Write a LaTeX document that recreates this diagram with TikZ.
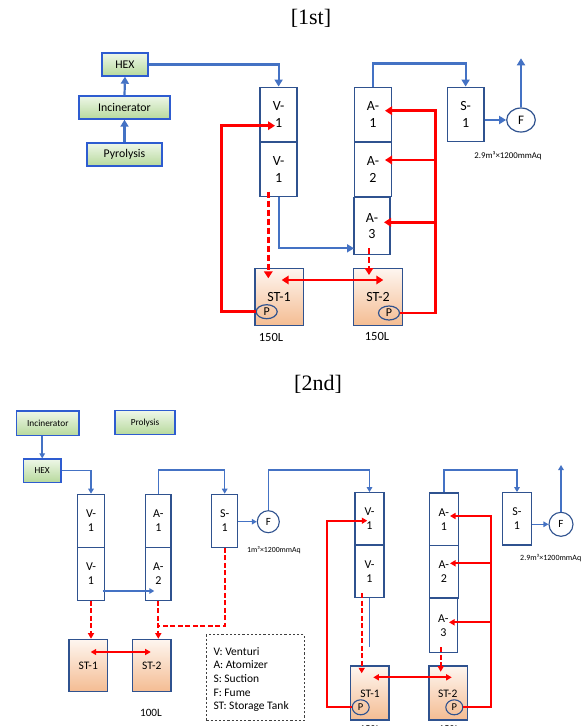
\documentclass[tikz,border=0pt]{standalone}
\usepackage{fontspec}
\setmainfont{Carlito}
\newfontfamily\titlefont{Liberation Serif}
\usetikzlibrary{arrows.meta,shapes.geometric,calc}
\definecolor{boxblue}{HTML}{2F528F}
\definecolor{lineblue}{HTML}{4472C4}
\definecolor{gborder}{HTML}{2E5CD0}
\definecolor{gtop}{HTML}{EEF7E8}
\definecolor{gbot}{HTML}{B7D99C}
\definecolor{ttop}{HTML}{FEF6F0}
\definecolor{tbot}{HTML}{F4BC92}
\definecolor{myred}{HTML}{FF0000}
\newcommand\fsz[2]{\fontsize{#1}{#2}\selectfont}
\tikzset{
 unitbox/.style={draw=boxblue, line width=1.4pt, fill=white, inner sep=0pt, align=center},
 gbox/.style={draw=gborder, line width=1.4pt, top color=gtop, bottom color=gbot, inner sep=0pt},
 tank/.style={draw=boxblue, line width=1.4pt, top color=ttop, bottom color=tbot, inner sep=0pt},
 pump/.style={ellipse, draw=boxblue, line width=1.2pt, inner sep=0pt},
 fan/.style={ellipse, draw=boxblue, line width=1.2pt, fill=white, inner sep=0pt},
 plain/.style={inner sep=0pt},
 bl/.style={draw=lineblue, line width=2.2pt, >={Triangle[length=7pt,width=8pt]}},
 rl/.style={draw=myred, line width=2.8pt, >={Triangle[length=7pt,width=8.5pt]}},
 rdash/.style={rl, dash pattern=on 6pt off 3pt},
 blb/.style={draw=lineblue, line width=1.5pt, >={Triangle[length=5pt,width=5.5pt]}},
 rlb/.style={draw=myred, line width=1.9pt, >={Triangle[length=5.5pt,width=6pt]}},
 rdashb/.style={rlb, dash pattern=on 5pt off 2.5pt},
}
\begin{document}
\begin{tikzpicture}[x=1pt,y=-1pt]
\useasboundingbox (0,0) rectangle (585,726);
\fill[white] (0,0) rectangle (585,726);

% ================= 1st =================
\node[plain, font=\titlefont\fsz{22}{26}] (title1) at (311,18) {[1st]};

\node[gbox, minimum width=46pt, minimum height=23pt, font=\fsz{11.8}{14}] (hexA) at (125,64.5) {HEX};
\node[gbox, minimum width=91pt, minimum height=23pt, font=\fsz{11.8}{14}] (incA) at (124.5,107.5) {Incinerator};
\node[gbox, minimum width=75pt, minimum height=23pt, font=\fsz{11.8}{14}] (pyrA) at (124.5,154.5) {Pyrolysis};

\node[unitbox, minimum width=37pt, minimum height=54.5pt, font=\fsz{14}{16.7}] (v1A) at (278.6,114.5) {V-\\1};
\node[unitbox, minimum width=37pt, minimum height=54.5pt, font=\fsz{14}{16.7}] (v1B) at (278.6,169.5) {V-\\1};
\node[unitbox, minimum width=37.5pt, minimum height=54.5pt, font=\fsz{14}{16.7}] (a1A) at (373,114.5) {A-\\1};
\node[unitbox, minimum width=37.5pt, minimum height=54.5pt, font=\fsz{14}{16.7}] (a2A) at (373,169.5) {A-\\2};
\node[unitbox, minimum width=36pt, minimum height=57pt, font=\fsz{14}{16.7}] (a3A) at (372,226) {A-\\3};
\node[unitbox, minimum width=36.7pt, minimum height=54.5pt, font=\fsz{14}{16.7}] (s1A) at (465.6,114.5) {S-\\1};
\node[fan, minimum width=28.6pt, minimum height=24pt, font=\fsz{13}{15}] (fA) at (521,120) {F};

\node[tank, minimum width=48.3pt, minimum height=57.4pt] (st1A) at (279.2,297) {};
\node[tank, minimum width=49pt, minimum height=57.4pt] (st2A) at (377.8,297) {};
\node[plain, font=\fsz{14}{16}] (st1Alab) at (279,296.7) {ST-1};
\node[plain, font=\fsz{14}{16}] (st2Alab) at (378,296.7) {ST-2};
\node[pump, minimum width=21pt, minimum height=14pt, font=\fsz{12}{14}] (p1A) at (266.7,311.7) {P};
\node[pump, minimum width=21pt, minimum height=14pt, font=\fsz{12}{14}] (p2A) at (389,313) {P};

\node[plain, font=\fsz{12.5}{14}] (volA1) at (271,337) {150L};
\node[plain, font=\fsz{12.5}{14}] (volA2) at (377,336) {150L};
\node[plain, font=\fsz{8.8}{10}] (capA) at (508,155.7) {2.9m³×1200mmAq};

% blue connectors
\draw[bl,->] (pyrA.north) -- (incA.south);
\draw[bl,->] (incA.north) -- (hexA.south);
\draw[bl,->] (hexA.east) -| (v1A.north);
\coordinate (a3Ain) at (354,248.3);
\draw[bl,->] (v1B.south) |- (a3Ain);
\draw[bl,->] (a1A.north) |- ($(s1A.north)+(0,-23)$) -- (s1A.north);
\draw[bl,->] (s1A.east |- fA.west) -- (fA.west);
\coordinate (fAout) at (521,58.3);
\draw[bl,->] (fA.north) -- (fAout);

% red connectors
\coordinate (rlA) at (221.7,311.7);
\coordinate (v1Ain) at (275,125.7);
\draw[rl,->] (p1A.west) -- (rlA) |- (v1Ain);
\coordinate (v1Bd) at (268.3,191.7);
\coordinate (st1Ain) at (268.3,278.3);
\draw[rdash,->] (v1Bd) -- (st1Ain);
\coordinate (a3Ad) at (369,248);
\coordinate (st2Ain) at (369,275);
\draw[rdash,->] (a3Ad) -- (st2Ain);
\coordinate (st1Ad) at (281.7,280);
\coordinate (st2Ad) at (383.3,280);
\draw[rl,<->] (st1Ad) -- (st2Ad);
\coordinate (rTopA) at (435.7,110.7);
\coordinate (a1Ain) at (385,110.7);
\draw[rl,->] (p2A.east) -| (rTopA) -- (a1Ain);
\coordinate (rMidA2) at (435.7,160);
\coordinate (a2Ain) at (385,160);
\draw[rl,->] (rMidA2) -- (a2Ain);
\coordinate (rMidA3) at (435.7,222.3);
\coordinate (a3Ain2) at (384,222.3);
\draw[rl,->] (rMidA3) -- (a3Ain2);

% ================= 2nd =================
\node[plain, font=\titlefont\fsz{22}{26}] (title2) at (318,384) {[2nd]};

\node[gbox, minimum width=62.3pt, minimum height=24.7pt, font=\fsz{9.3}{11}] (incB) at (47.8,423.3) {Incinerator};
\node[gbox, minimum width=60pt, minimum height=24pt, font=\fsz{9.3}{11}] (proB) at (145,422.7) {Prolysis};
\node[gbox, minimum width=37.7pt, minimum height=23.3pt, font=\fsz{9.3}{11}] (hexB) at (42.2,470.7) {HEX};

\tikzset{ubs/.style={unitbox, line width=1.2pt, font=\fsz{12}{14}}}
\node[ubs, minimum width=26.6pt, minimum height=53pt] (v1C) at (91,520.8) {V-\\1};
\node[ubs, minimum width=26.6pt, minimum height=53pt] (v1D) at (91,573.8) {V-\\1};
\node[ubs, minimum width=25.3pt, minimum height=53pt] (a1C) at (158.3,520.8) {A-\\1};
\node[ubs, minimum width=25.3pt, minimum height=53pt] (a2C) at (158.3,573.8) {A-\\2};
\node[ubs, minimum width=26pt, minimum height=53pt] (s1C) at (224.7,520.8) {S-\\1};
\node[fan, line width=1.1pt, minimum width=22pt, minimum height=22pt, font=\fsz{11}{13}] (fC) at (268.3,521.7) {F};
\node[plain, font=\fsz{7.8}{9}] (capC) at (274,550) {1m³×1200mmAq};

\node[tank, line width=1.2pt, minimum width=38.3pt, minimum height=52.4pt, font=\fsz{11.5}{13}] (st1C) at (88.2,665.5) {ST-1};
\node[tank, line width=1.2pt, minimum width=38.3pt, minimum height=52.4pt, font=\fsz{11.5}{13}] (st2C) at (151.8,665.5) {ST-2};
\node[plain, font=\fsz{11.2}{13}] (volC) at (151,713.3) {100L};

\node[draw=black!75, line width=0.9pt, dash pattern=on 2.2pt off 2pt, minimum width=98pt, minimum height=85.7pt, anchor=north west, inner sep=0pt] (legend) at (206,634.3) {};
\node[plain, anchor=west, align=left, font=\fsz{11.5}{13.6}] (legtext) at (213.3,679.5) {V: Venturi\\A: Atomizer\\S: Suction\\F: Fume\\ST: Storage Tank};

\node[ubs, minimum width=29pt, minimum height=52.3pt] (v1E) at (369.5,518.9) {V-\\1};
\node[ubs, minimum width=29pt, minimum height=52.6pt] (v1F) at (369.5,571.4) {V-\\1};
\node[ubs, minimum width=29pt, minimum height=52.6pt] (a1E) at (443.8,519.2) {A-\\1};
\node[ubs, minimum width=29pt, minimum height=52.6pt] (a2E) at (443.8,571.8) {A-\\2};
\node[ubs, minimum width=28pt, minimum height=54.7pt] (a3E) at (443.3,625.4) {A-\\3};
\node[ubs, minimum width=29.4pt, minimum height=52.3pt] (s1E) at (517,518.9) {S-\\1};
\node[fan, line width=1.1pt, minimum width=24pt, minimum height=24pt, font=\fsz{11}{13}] (fE) at (561,524.3) {F};
\node[plain, font=\fsz{8}{9}] (capE) at (550.7,558.3) {2.9m³×1200mmAq};

\node[tank, line width=1.2pt, minimum width=38.3pt, minimum height=54pt] (st1E) at (369.9,693) {};
\node[tank, line width=1.2pt, minimum width=38.3pt, minimum height=54pt] (st2E) at (448.2,693) {};
\node[plain, font=\fsz{11.5}{13}] (st1Elab) at (370,693.3) {ST-1};
\node[plain, font=\fsz{11.5}{13}] (st2Elab) at (447.7,693.3) {ST-2};
\node[pump, line width=1.1pt, minimum width=17pt, minimum height=15pt, font=\fsz{10.5}{12}] (p1E) at (360.7,707.3) {P};
\node[pump, line width=1.1pt, minimum width=17pt, minimum height=15pt, font=\fsz{10.5}{12}] (p2E) at (454.3,707.3) {P};
\node[plain, font=\fsz{10.5}{12}] (volE1) at (370,729.5) {150L};
\node[plain, font=\fsz{10.5}{12}] (volE2) at (449,729.5) {150L};

% blue connectors (2nd)
\draw[blb,->] (hexB.north |- incB.south) -- (hexB.north);
\draw[blb,->] (hexB.east) -| (v1C.north);
\draw[blb,->] (a1C.north) |- ($(s1C.north)+(0,-23.6)$) -- (s1C.north);
\draw[blb,->] (s1C.east |- fC.west) -- (fC.west);
\draw[blb,->] (fC.north) |- ($(v1E.north)+(0,-22)$) -- (v1E.north);
\coordinate (vaS) at (102.7,591);
\coordinate (vaE) at (154.3,591);
\draw[blb,->] (vaS) -- (vaE);
\draw[blb] (v1F.south) -- ++(0,48.3);
\draw[blb,->] (a1E.north) |- ($(s1E.north)+(0,-22)$) -- (s1E.north);
\draw[blb,->] (s1E.east |- fE.west) -- (fE.west);
\coordinate (fEout) at (561,465);
\draw[blb,->] (fE.north) -- (fEout);

% red connectors (2nd)
\draw[rdashb,->] (v1D.south) -- (v1D.south |- st1C.north);
\draw[rdashb,->] (a2C.south) -- (a2C.south |- st2C.north);
\coordinate (jnC) at (158.3,625.7);
\draw[rdashb] (s1C.south) |- (jnC);
\coordinate (st1Cin) at (90.7,652);
\coordinate (st2Cin) at (150.7,652);
\draw[rlb,<->] (st1Cin) -- (st2Cin);

\coordinate (lpB) at (326.7,707.3);
\coordinate (v1Ein) at (367.3,520.7);
\draw[rlb,->] (p1E.west) -- (lpB) |- (v1Ein);
\coordinate (v1Fd) at (361.7,593);
\coordinate (st1Ein) at (361.7,673.3);
\draw[rdashb,->] (v1Fd) -- (st1Ein);
\coordinate (a3Ed) at (440.7,647.3);
\coordinate (st2Ein) at (440.7,671.7);
\draw[rdashb,->] (a3Ed) -- (st2Ein);
\coordinate (st1Ed) at (373.3,677.3);
\coordinate (st2Ed) at (451.7,677.3);
\draw[rlb,<->] (st1Ed) -- (st2Ed);
\coordinate (rTopE) at (490.7,516);
\coordinate (a1Ein) at (450,516);
\draw[rlb,->] (p2E.east) -| (rTopE) -- (a1Ein);
\coordinate (rMidE2) at (490.7,563.3);
\coordinate (a2Ein) at (450,563.3);
\draw[rlb,->] (rMidE2) -- (a2Ein);
\coordinate (rMidE3) at (490.7,622.3);
\coordinate (a3Ein) at (449,622.3);
\draw[rlb,->] (rMidE3) -- (a3Ein);
\end{tikzpicture}
\end{document}
